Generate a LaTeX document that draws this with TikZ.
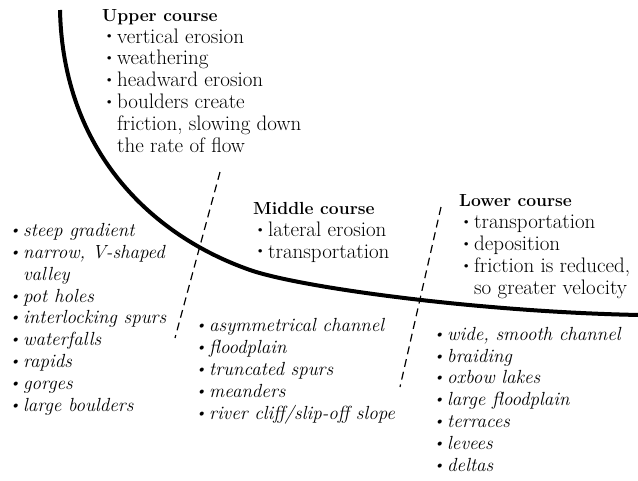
\documentclass[tikz,border=0pt]{standalone}
\usepackage{tikz}
\tikzset{
  course/.style={align=left, anchor=base west, inner sep=0pt,
    font=\fontsize{21}{21.8}\selectfont},
  feature/.style={course, font=\fontsize{19}{21.8}\selectfont\itshape},
  divide/.style={dash pattern=on 8pt off 5pt, line width=1.2pt},
  river/.style={line width=4pt, line cap=butt},
}
\newcommand{\bul}{\hspace*{1.5pt}\makebox[13.5pt][l]{\raisebox{0.1em}{\scalebox{0.75}{\textbullet}}}}
\newcommand{\cont}{\hspace*{15pt}}
\newcommand{\heading}[1]{{\fontsize{17.5}{21.8}\selectfont\bfseries #1}}

\begin{document}
\begin{tikzpicture}[x=1pt, y=-1pt]
    \useasboundingbox (0,0) rectangle (638,480);
    % River long profile
    \draw[river] (60,10) .. controls (63,150) and (150,235) .. (250,270)
      .. controls (300,287.5) and (480,312) .. (640,315);
    % Boundaries between the courses
    \draw[divide] (220,172) -- (175,338);
    \draw[divide] (441,207) -- (400,387);
    % Upper course (node placed at baseline of last line)
    \node[course] (upper) at (102,152) {\heading{Upper course}\\
      \bul vertical erosion\\
      \bul weathering\\
      \bul headward erosion\\
      \bul boulders create\\
      \cont friction, slowing down\\
      \cont the rate of flow};
    \node[feature] (upperfeat) at (8,411) {\bul steep gradient\\
      \bul narrow, V-shaped\\
      \cont valley\\
      \bul pot holes\\
      \bul interlocking spurs\\
      \bul waterfalls\\
      \bul rapids\\
      \bul gorges\\
      \bul large boulders};
    % Middle course
    \node[course] (middle) at (253,258) {\heading{Middle course}\\
      \bul lateral erosion\\
      \bul transportation};
    \node[feature] (middlefeat) at (194,419) {\bul asymmetrical channel\\
      \bul floodplain\\
      \bul truncated spurs\\
      \bul meanders\\
      \bul river cliff/slip-off slope};
    % Lower course
    \node[course] (lower) at (459,294) {\heading{Lower course}\\
      \bul transportation\\
      \bul deposition\\
      \bul friction is reduced,\\
      \cont so greater velocity};
    \node[feature] (lowerfeat) at (432,471) {\bul wide, smooth channel\\
      \bul braiding\\
      \bul oxbow lakes\\
      \bul large floodplain\\
      \bul terraces\\
      \bul levees\\
      \bul deltas};
\end{tikzpicture}
\end{document}
